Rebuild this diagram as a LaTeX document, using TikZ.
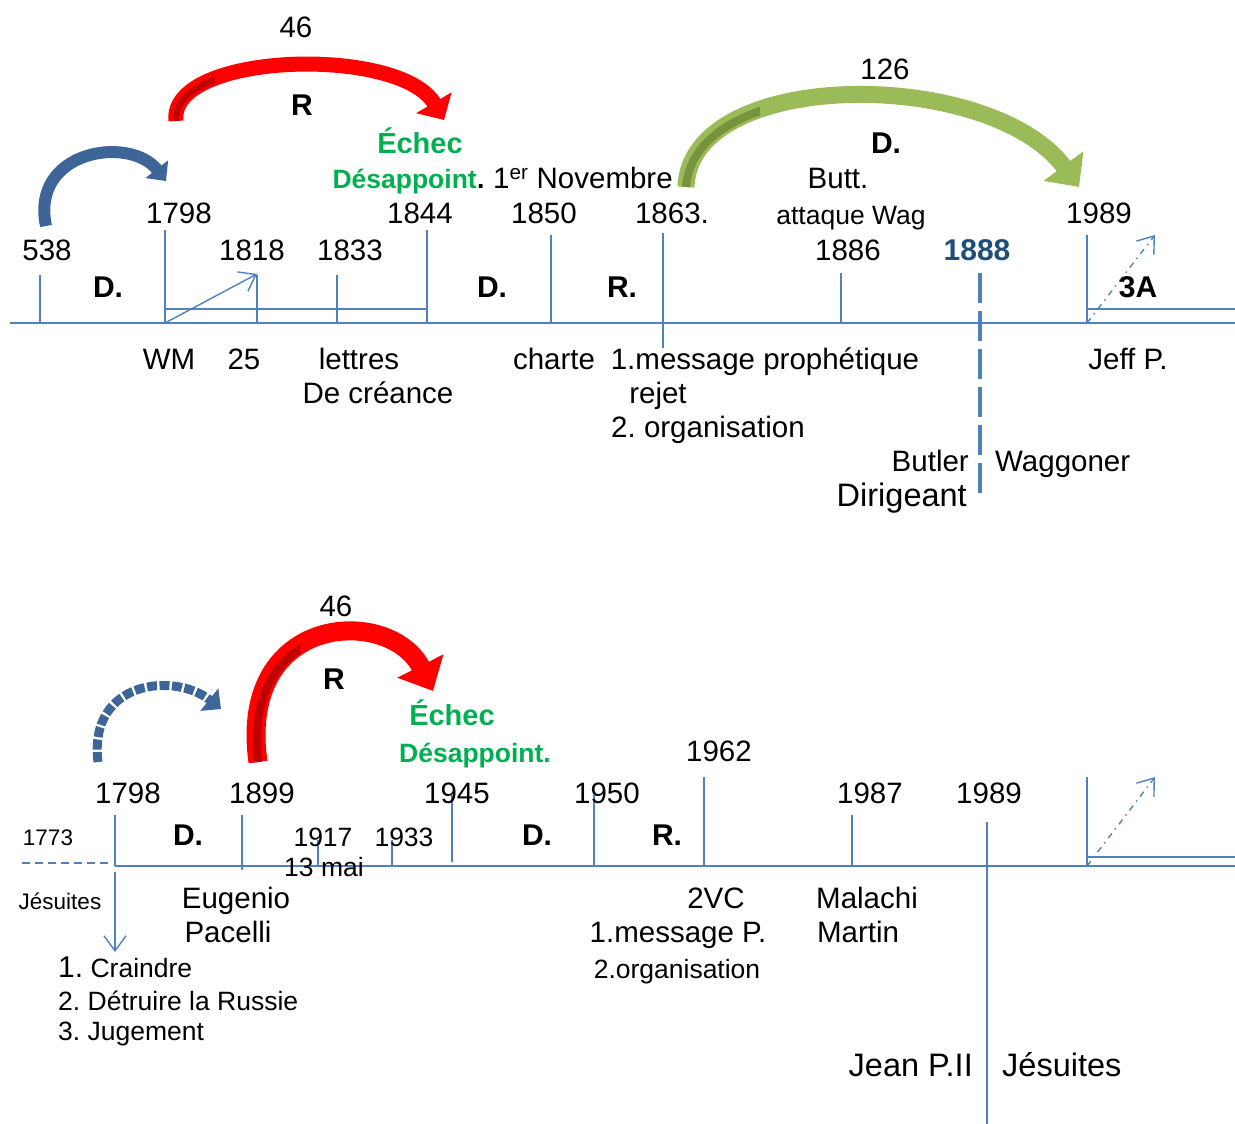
\documentclass[tikz,border=0pt]{standalone}
\usepackage{fontspec}
\setmainfont{Liberation Sans}
\usetikzlibrary{arrows.meta}
\frenchspacing
\definecolor{lineblue}{HTML}{4F81BD}
\definecolor{darkblue}{HTML}{1F4E79}
\definecolor{arcblue}{HTML}{3E6597}
\definecolor{greentext}{HTML}{00B050}
\definecolor{redarc}{HTML}{FF0000}
\definecolor{redshade}{HTML}{C00000}
\definecolor{greenarc}{HTML}{9BBB59}
\definecolor{greenshade}{HTML}{77933C}
\tikzset{
  axis/.style={lineblue,line width=2.2pt},
  tickline/.style={lineblue,line width=1.6pt},
  thinline/.style={lineblue,line width=1.1pt},
  pointer/.style={lineblue,line width=1.4pt,-{Straight Barb[length=15pt,width=22pt]}},
  dashpointer/.style={pointer,dash pattern=on 6pt off 5pt on 1.5pt off 5pt},
  yr/.style={font=\fontsize{29.5}{31}\selectfont,inner sep=0pt,text height=21pt,text depth=0pt},
  yrbig/.style={font=\fontsize{32.5}{34}\selectfont,inner sep=0pt,text height=23pt,text depth=0pt},
  yrsmall/.style={font=\fontsize{26.5}{28}\selectfont,inner sep=0pt,text height=19pt,text depth=0pt},
  yrtiny/.style={font=\fontsize{22.5}{24}\selectfont,inner sep=0pt,text height=16pt,text depth=0pt},
  period/.style={font=\bfseries\fontsize{30}{32}\selectfont,inner sep=0pt,text height=21.5pt,text depth=0pt},
  echec/.style={font=\bfseries\fontsize{29}{31}\selectfont,text=greentext,inner sep=0pt,text height=21pt,text depth=0pt},
  desap/.style={font=\bfseries\fontsize{26.5}{28}\selectfont,text=greentext,inner sep=0pt,text height=19pt,text depth=0pt},
  redcurve/.style={redarc,line width=15pt,-{Triangle[length=20pt,width=40pt]}},
  greencurve/.style={greenarc,line width=17pt,-{Triangle[length=26pt,width=48pt]}},
  bluecurve/.style={arcblue,line width=12pt,-{Triangle[length=15pt,width=28pt]}}
}
\begin{document}
\begin{tikzpicture}[x=1pt,y=-1pt]
\useasboundingbox (0,0) rectangle (1235,1124);
% ---- first timeline
\draw[axis] (10,323) -- (1235,323);
\foreach \x/\t in {40/275,165/230,257/275,337/275,427/230,551/235,841/273,1087/235}{\draw[tickline] (\x,\t) -- (\x,323);}
\draw[tickline] (663,233) -- (663,348);
\draw[thinline] (165,309) -- (427,309);
\draw[thinline] (1087,309) -- (1235,309);
\draw[lineblue,line width=4pt,dash pattern=on 30pt off 8pt] (980,273) -- (980,500);
\coordinate (wm) at (165,323); \coordinate (s1818) at (257,274);
\draw[pointer] (wm) -- (s1818);
\coordinate (jeff) at (1087,323); \coordinate (aup) at (1155,235);
\draw[dashpointer] (jeff) -- (aup);
% curved arrows
\coordinate (b1s) at (46,226); \coordinate (b1e) at (166,181);
\draw[bluecurve] (b1s) .. controls (30,150) and (130,135) .. (b1e);
\coordinate (r1s) at (176,121); \coordinate (r1e) at (444,120);
\draw[redcurve] (r1s) .. controls (168,52) and (400,45) .. (r1e);
\begin{scope}
\clip (150,60) rectangle (215,125);
\draw[redshade,line width=6pt,xshift=4pt] (r1s) .. controls (168,52) and (400,45) .. (444,120);
\end{scope}
\coordinate (g1s) at (686,187); \coordinate (g1e) at (1079,187);
\draw[greencurve] (g1s) .. controls (690,67) and (990,67) .. (g1e);
\begin{scope}
\clip (660,95) rectangle (760,190);
\draw[greenshade,line width=8pt,xshift=5pt] (g1s) .. controls (690,67) and (990,67) .. (1079,187);
\end{scope}
% labels above
\node[yr] (n46a) at (296,27) {46};
\node[period] (rA) at (302,105) {R};
\node[echec] (echA) at (420,143) {Échec};
\node[desap,anchor=east] (desA) at (477,179) {Désappoint};
\node[desap,text=black,anchor=west] (dotA) at (desA.east) {.};
\node[yr,anchor=west] (nov) at (493,178) {1\textsuperscript{er} Novembre};
\node[yr] (n126) at (885,69) {126};
\node[period] (dB) at (886,143) {D.};
\node[yr] (butt) at (838,178) {Butt.};
\node[yrsmall] (wag) at (851,215) {attaque Wag};
\node[yr] (l1798) at (179,213) {1798};
\node[yr] (l1844) at (420,213) {1844};
\node[yr] (l1850) at (544,213) {1850};
\node[yr] (l1863) at (672,213) {1863.};
\node[yr] (l1989) at (1099,213) {1989};
\node[yr] (l538) at (47,250) {538};
\node[yr] (l1818) at (252,250) {1818};
\node[yr] (l1833) at (350,250) {1833};
\node[yr] (l1886) at (848,250) {1886};
\node[period,text=darkblue] (l1888) at (977,250) {1888};
\node[period] (dA) at (108,287) {D.};
\node[period] (dC) at (492,287) {D.};
\node[period] (rB) at (622,287) {R.};
\node[period] (tA) at (1138,287) {3A};
% labels below
\node[yr] (wmt) at (169,359) {WM};
\node[yr] (n25) at (244,359) {25};
\node[yr] (lettres) at (359,359) {lettres};
\node[yr] (creance) at (378,393) {De créance};
\node[yr] (charte) at (554,359) {charte};
\node[yr] (msgA) at (765,359) {1.message prophétique};
\node[yr] (rejet) at (658,393) {rejet};
\node[yr] (orgA) at (708,427) {2. organisation};
\node[yr] (jeffp) at (1128,359) {Jeff P.};
\node[yr,anchor=east] (butler) at (969,461) {Butler};
\node[yr,anchor=west] (waggoner) at (995,461) {Waggoner};
\node[yrbig,anchor=east] (dirig) at (967,495) {Dirigeant};
% ---- second timeline
\draw[axis] (115,866) -- (1235,866);
\draw[lineblue,line width=1.6pt,dash pattern=on 8pt off 5pt] (22,863) -- (113,863);
\foreach \x/\t/\b in {115/815/866,242/815/870,318/840/866,392/840/866,452/795/862,594/795/866,704/777/866,852/815/866,1087/777/866}{\draw[tickline] (\x,\t) -- (\x,\b);}
\draw[tickline] (987,822) -- (987,1124);
\draw[thinline] (1087,857) -- (1235,857);
\coordinate (jtop) at (115,872); \coordinate (jbot) at (115,952);
\draw[pointer] (jtop) -- (jbot);
\coordinate (vcs) at (1087,866); \coordinate (vce) at (1155,777);
\draw[dashpointer] (vcs) -- (vce);
% curved arrows
\coordinate (b2s) at (98,762); \coordinate (b2e) at (221,709);
\draw[bluecurve,line width=9pt,dash pattern=on 10pt off 2.5pt] (b2s) .. controls (88,680) and (175,672) .. (b2e);
\coordinate (r2s) at (258,762); \coordinate (r2e) at (433,691);
\draw[redcurve,line width=19pt,-{Triangle[length=28pt,width=50pt]}] (r2s) .. controls (237,612) and (390,606) .. (r2e);
\begin{scope}
\clip (230,640) rectangle (300,770);
\draw[redshade,line width=8pt,xshift=5pt] (r2s) .. controls (237,612) and (390,606) .. (433,691);
\end{scope}
% labels above
\node[yr] (n46b) at (336,606) {46};
\node[period] (rC) at (334,679) {R};
\node[echec] (echB) at (452,715) {Échec};
\node[desap] (desB) at (475,753) {Désappoint.};
\node[yr] (l1962) at (719,751) {1962};
\node[yr] (m1798) at (128,793) {1798};
\node[yr] (l1899) at (262,793) {1899};
\node[yr] (l1945) at (457,793) {1945};
\node[yr] (l1950) at (607,793) {1950};
\node[yr] (l1987) at (870,793) {1987};
\node[yr] (m1989) at (989,793) {1989};
\node[yrtiny] (l1773) at (48,837) {1773};
\node[yrsmall] (l1917) at (323,837) {1917};
\node[yrsmall] (l1933) at (404,837) {1933};
\node[yrsmall] (mai) at (324,867) {13 mai};
\node[period] (dD) at (188,835) {D.};
\node[period] (dE) at (537,835) {D.};
\node[period] (rD) at (667,835) {R.};
% labels below
\node[yrtiny] (jes) at (60,901) {Jésuites};
\node[yr] (eug) at (236,898) {Eugenio};
\node[yr] (pac) at (228,932) {Pacelli};
\node[yr] (vc) at (716,898) {2VC};
\node[yr] (msgB) at (678,932) {1.message P.};
\node[yrsmall] (orgB) at (677,969) {2.organisation};
\node[yr] (mal) at (867,898) {Malachi};
\node[yr] (mar) at (858,932) {Martin};
\node[yrsmall,anchor=west] (fear) at (58,968) {{\fontsize{30}{31}\selectfont 1.} Craindre};
\node[yrsmall,anchor=west] (russ) at (58,1001) {2. Détruire la Russie};
\node[yrsmall,anchor=west] (jug) at (58,1031) {3. Jugement};
\node[yrbig,anchor=east] (jp) at (973,1065) {Jean P.II};
\node[yrbig,anchor=west] (jesB) at (1002,1065) {Jésuites};
\end{tikzpicture}
\end{document}
